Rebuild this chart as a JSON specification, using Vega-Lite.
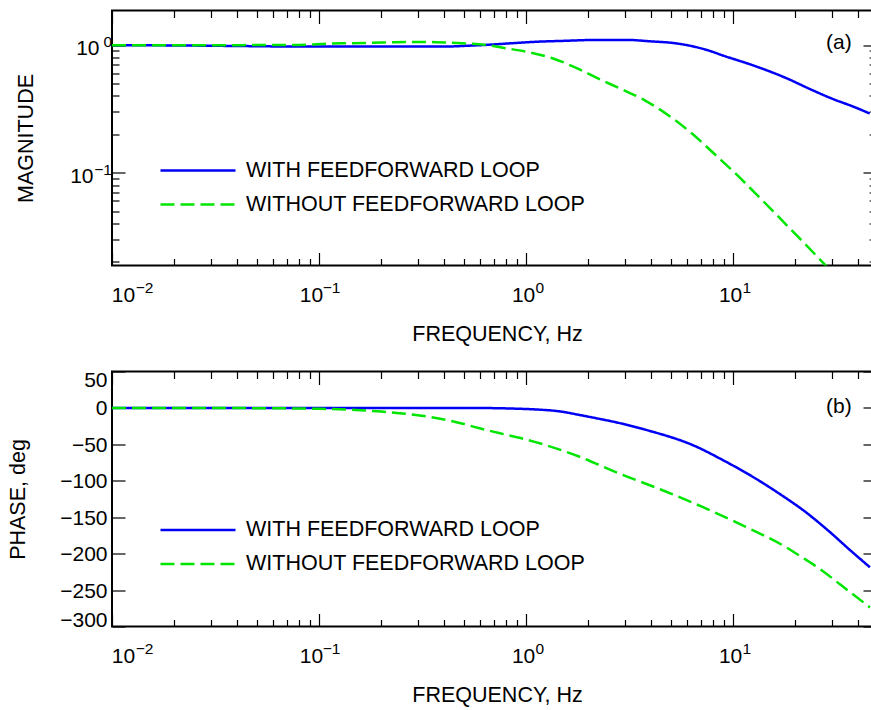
{
  "$schema": "https://vega.github.io/schema/vega-lite/v6.json",
  "padding": {"left": 5, "top": 8.5, "right": 0, "bottom": 0},
  "background": "white",
  "bounds": "flush",
  "spacing": 106,
  "datasets": {
    "mag": [
      {"series": "WITH FEEDFORWARD LOOP", "f": 0.01, "v": 1.0},
      {"series": "WITH FEEDFORWARD LOOP", "f": 0.02, "v": 0.995},
      {"series": "WITH FEEDFORWARD LOOP", "f": 0.04, "v": 0.985},
      {"series": "WITH FEEDFORWARD LOOP", "f": 0.08, "v": 0.975},
      {"series": "WITH FEEDFORWARD LOOP", "f": 0.2, "v": 0.975},
      {"series": "WITH FEEDFORWARD LOOP", "f": 0.41, "v": 0.975},
      {"series": "WITH FEEDFORWARD LOOP", "f": 0.51, "v": 0.988},
      {"series": "WITH FEEDFORWARD LOOP", "f": 0.64, "v": 1.005},
      {"series": "WITH FEEDFORWARD LOOP", "f": 0.86, "v": 1.036},
      {"series": "WITH FEEDFORWARD LOOP", "f": 1.16, "v": 1.066},
      {"series": "WITH FEEDFORWARD LOOP", "f": 1.5, "v": 1.08},
      {"series": "WITH FEEDFORWARD LOOP", "f": 1.86, "v": 1.093},
      {"series": "WITH FEEDFORWARD LOOP", "f": 2.1, "v": 1.1},
      {"series": "WITH FEEDFORWARD LOOP", "f": 3.1, "v": 1.099},
      {"series": "WITH FEEDFORWARD LOOP", "f": 3.9, "v": 1.074},
      {"series": "WITH FEEDFORWARD LOOP", "f": 5.4, "v": 1.029},
      {"series": "WITH FEEDFORWARD LOOP", "f": 7.5, "v": 0.915},
      {"series": "WITH FEEDFORWARD LOOP", "f": 9.0, "v": 0.826},
      {"series": "WITH FEEDFORWARD LOOP", "f": 12.6, "v": 0.691},
      {"series": "WITH FEEDFORWARD LOOP", "f": 17.9, "v": 0.555},
      {"series": "WITH FEEDFORWARD LOOP", "f": 23.9, "v": 0.447},
      {"series": "WITH FEEDFORWARD LOOP", "f": 30, "v": 0.381},
      {"series": "WITH FEEDFORWARD LOOP", "f": 38.9, "v": 0.325},
      {"series": "WITH FEEDFORWARD LOOP", "f": 45.7, "v": 0.291},
      {"series": "WITHOUT FEEDFORWARD LOOP", "f": 0.01, "v": 1.0},
      {"series": "WITHOUT FEEDFORWARD LOOP", "f": 0.03, "v": 1.0},
      {"series": "WITHOUT FEEDFORWARD LOOP", "f": 0.08, "v": 1.005},
      {"series": "WITHOUT FEEDFORWARD LOOP", "f": 0.112, "v": 1.029},
      {"series": "WITHOUT FEEDFORWARD LOOP", "f": 0.139, "v": 1.036},
      {"series": "WITHOUT FEEDFORWARD LOOP", "f": 0.2, "v": 1.047},
      {"series": "WITHOUT FEEDFORWARD LOOP", "f": 0.29, "v": 1.06},
      {"series": "WITHOUT FEEDFORWARD LOOP", "f": 0.366, "v": 1.055},
      {"series": "WITHOUT FEEDFORWARD LOOP", "f": 0.49, "v": 1.036},
      {"series": "WITHOUT FEEDFORWARD LOOP", "f": 0.64, "v": 1.005},
      {"series": "WITHOUT FEEDFORWARD LOOP", "f": 0.76, "v": 0.958},
      {"series": "WITHOUT FEEDFORWARD LOOP", "f": 0.99, "v": 0.892},
      {"series": "WITHOUT FEEDFORWARD LOOP", "f": 1.34, "v": 0.79},
      {"series": "WITHOUT FEEDFORWARD LOOP", "f": 1.8, "v": 0.648},
      {"series": "WITHOUT FEEDFORWARD LOOP", "f": 2.21, "v": 0.551},
      {"series": "WITHOUT FEEDFORWARD LOOP", "f": 2.81, "v": 0.461},
      {"series": "WITHOUT FEEDFORWARD LOOP", "f": 3.78, "v": 0.366},
      {"series": "WITHOUT FEEDFORWARD LOOP", "f": 4.9, "v": 0.28},
      {"series": "WITHOUT FEEDFORWARD LOOP", "f": 6.35, "v": 0.2017},
      {"series": "WITHOUT FEEDFORWARD LOOP", "f": 8.08, "v": 0.1413},
      {"series": "WITHOUT FEEDFORWARD LOOP", "f": 10.32, "v": 0.0977},
      {"series": "WITHOUT FEEDFORWARD LOOP", "f": 13.33, "v": 0.0646},
      {"series": "WITHOUT FEEDFORWARD LOOP", "f": 16.65, "v": 0.0447},
      {"series": "WITHOUT FEEDFORWARD LOOP", "f": 20.8, "v": 0.0309},
      {"series": "WITHOUT FEEDFORWARD LOOP", "f": 25.98, "v": 0.02125},
      {"series": "WITHOUT FEEDFORWARD LOOP", "f": 30.7, "v": 0.016}
    ],
    "phase": [
      {"series": "WITH FEEDFORWARD LOOP", "f": 0.01, "v": 0},
      {"series": "WITH FEEDFORWARD LOOP", "f": 0.1, "v": 0},
      {"series": "WITH FEEDFORWARD LOOP", "f": 0.5, "v": 0},
      {"series": "WITH FEEDFORWARD LOOP", "f": 0.7, "v": -0.3},
      {"series": "WITH FEEDFORWARD LOOP", "f": 0.89, "v": -1},
      {"series": "WITH FEEDFORWARD LOOP", "f": 1.15, "v": -2.3},
      {"series": "WITH FEEDFORWARD LOOP", "f": 1.45, "v": -4.7},
      {"series": "WITH FEEDFORWARD LOOP", "f": 1.8, "v": -9.5},
      {"series": "WITH FEEDFORWARD LOOP", "f": 2.26, "v": -15},
      {"series": "WITH FEEDFORWARD LOOP", "f": 2.6, "v": -18.5},
      {"series": "WITH FEEDFORWARD LOOP", "f": 3.77, "v": -29.9},
      {"series": "WITH FEEDFORWARD LOOP", "f": 6.61, "v": -52.9},
      {"series": "WITH FEEDFORWARD LOOP", "f": 8.87, "v": -71.2},
      {"series": "WITH FEEDFORWARD LOOP", "f": 12.4, "v": -94.3},
      {"series": "WITH FEEDFORWARD LOOP", "f": 16.6, "v": -117.1},
      {"series": "WITH FEEDFORWARD LOOP", "f": 22.4, "v": -142.9},
      {"series": "WITH FEEDFORWARD LOOP", "f": 29.0, "v": -169.1},
      {"series": "WITH FEEDFORWARD LOOP", "f": 36.3, "v": -193.9},
      {"series": "WITH FEEDFORWARD LOOP", "f": 45.8, "v": -218.7},
      {"series": "WITHOUT FEEDFORWARD LOOP", "f": 0.01, "v": 0},
      {"series": "WITHOUT FEEDFORWARD LOOP", "f": 0.05, "v": -0.3},
      {"series": "WITHOUT FEEDFORWARD LOOP", "f": 0.1, "v": -1.2},
      {"series": "WITHOUT FEEDFORWARD LOOP", "f": 0.15, "v": -2.8},
      {"series": "WITHOUT FEEDFORWARD LOOP", "f": 0.2, "v": -5},
      {"series": "WITHOUT FEEDFORWARD LOOP", "f": 0.3, "v": -10},
      {"series": "WITHOUT FEEDFORWARD LOOP", "f": 0.446, "v": -18.5},
      {"series": "WITHOUT FEEDFORWARD LOOP", "f": 0.59, "v": -27.6},
      {"series": "WITHOUT FEEDFORWARD LOOP", "f": 0.74, "v": -34.5},
      {"series": "WITHOUT FEEDFORWARD LOOP", "f": 0.94, "v": -41.3},
      {"series": "WITHOUT FEEDFORWARD LOOP", "f": 1.8, "v": -66.7},
      {"series": "WITHOUT FEEDFORWARD LOOP", "f": 2.79, "v": -89.6},
      {"series": "WITHOUT FEEDFORWARD LOOP", "f": 4.53, "v": -112.6},
      {"series": "WITHOUT FEEDFORWARD LOOP", "f": 7.07, "v": -135.6},
      {"series": "WITHOUT FEEDFORWARD LOOP", "f": 11.5, "v": -163.2},
      {"series": "WITHOUT FEEDFORWARD LOOP", "f": 17.9, "v": -190.7},
      {"series": "WITHOUT FEEDFORWARD LOOP", "f": 21.5, "v": -204.9},
      {"series": "WITHOUT FEEDFORWARD LOOP", "f": 26.0, "v": -220.1},
      {"series": "WITHOUT FEEDFORWARD LOOP", "f": 33.55, "v": -244.2},
      {"series": "WITHOUT FEEDFORWARD LOOP", "f": 45.8, "v": -273.8}
    ]
  },
  "vconcat": [
    {
      "width": 764,
      "height": 255,
      "layer": [
        {
          "data": {"name": "mag"},
          "mark": {"type": "line", "strokeWidth": 2.5, "clip": true, "interpolate": "monotone"},
          "encoding": {
            "x": {
              "field": "f", "type": "quantitative",
              "scale": {"type": "log", "domain": [0.01, 49], "nice": false},
              "axis": {
                "orient": "bottom",
                "values": [0.01,0.02,0.03,0.04,0.05,0.06,0.07,0.08,0.09,0.1,0.2,0.3,0.4,0.5,0.6,0.7,0.8,0.9,1,2,3,4,5,6,7,8,9,10,20,30,40],
                "tickSize": {"condition": {"test": "datum.value==0.01||datum.value==0.1||datum.value==1||datum.value==10", "value": -13}, "value": -7},
                "labelExpr": "datum.value==0.01||datum.value==0.1||datum.value==1||datum.value==10?'10':''",
                "labelPadding": 31.5,
                "labelAlign": "center",
                "labelOffset": {"condition": [{"test": "datum.value==0.01", "value": 11}, {"test": "datum.value==0.1", "value": -8}], "value": -3},
                "title": "FREQUENCY, Hz",
                "titleX": 385,
                "titleY": 75,
                "titleBaseline": "alphabetic"
              }
            },
            "y": {
              "field": "v", "type": "quantitative",
              "scale": {"type": "log", "domain": [0.0187, 1.87], "nice": false},
              "axis": {
                "orient": "left",
                "values": [0.02,0.03,0.04,0.05,0.06,0.07,0.08,0.09,0.1,0.2,0.3,0.4,0.5,0.6,0.7,0.8,0.9,1],
                "tickSize": {"condition": {"test": "datum.value==1||datum.value==0.1", "value": -13}, "value": -7},
                "labelExpr": "datum.value==1||datum.value==0.1?'10':''",
                "labelPadding": {"condition": {"test": "datum.value==0.1", "value": 32}, "value": 26},
                "labelOffset": 3.7,
                "title": "MAGNITUDE",
                "titleX": -80,
                "titleY": 127.5,
                "titleBaseline": "alphabetic"
              }
            },
            "color": {
              "field": "series", "type": "nominal",
              "scale": {"domain": ["WITH FEEDFORWARD LOOP", "WITHOUT FEEDFORWARD LOOP"], "range": ["#0000f5", "#00e600"]},
              "legend": {"title": null, "orient": "none", "legendX": 47, "legendY": 150, "symbolType": "stroke", "symbolSize": 5625, "symbolStrokeWidth": 2.5, "labelFontSize": 21.5, "labelFont": "Liberation Sans", "labelColor": "black", "labelLimit": 600, "labelOffset": 9, "clipHeight": 20, "rowPadding": 12, "padding": 0}
            },
            "strokeDash": {
              "field": "series", "type": "nominal",
              "scale": {"domain": ["WITH FEEDFORWARD LOOP", "WITHOUT FEEDFORWARD LOOP"], "range": [[1, 0], [14, 6]]},
              "legend": {"title": null, "orient": "none", "legendX": 47, "legendY": 150, "symbolType": "stroke", "symbolSize": 5625, "symbolStrokeWidth": 2.5, "labelFontSize": 21.5, "labelFont": "Liberation Sans", "labelColor": "black", "labelLimit": 600, "labelOffset": 9, "clipHeight": 20, "rowPadding": 12, "padding": 0}
            }
          }
        },
        {
          "data": {"values": [{}]},
          "mark": {"type": "text", "fontSize": 21, "font": "Liberation Sans", "color": "black", "align": "center", "baseline": "middle"},
          "encoding": {
            "x": {
              "datum": 32.4, "type": "quantitative",
              "axis": {
                "orient": "top",
                "values": [0.01,0.02,0.03,0.04,0.05,0.06,0.07,0.08,0.09,0.1,0.2,0.3,0.4,0.5,0.6,0.7,0.8,0.9,1,2,3,4,5,6,7,8,9,10,20,30,40],
                "tickSize": {"condition": {"test": "datum.value==0.01||datum.value==0.1||datum.value==1||datum.value==10", "value": -13}, "value": -7},
                "labels": false,
                "title": null
              }
            },
            "y": {
              "datum": 1.033, "type": "quantitative",
              "axis": {
                "orient": "right",
                "values": [0.02,0.03,0.04,0.05,0.06,0.07,0.08,0.09,0.1,0.2,0.3,0.4,0.5,0.6,0.7,0.8,0.9,1],
                "tickSize": {"condition": {"test": "datum.value==1||datum.value==0.1", "value": -13}, "value": -7},
                "labels": false,
                "title": null
              }
            },
            "text": {"value": "(a)"}
          }
        },
        {
          "data": {"values": [{}]},
          "mark": {"type": "text", "fontSize": 1, "opacity": 0},
          "encoding": {
            "x": {
              "datum": 1, "type": "quantitative",
              "axis": {
                "orient": "bottom",
                "values": [0.01, 0.1, 1, 10],
                "ticks": false,
                "labelExpr": "datum.value==0.01?'−2':datum.value==0.1?'−1':datum.value==1?'0':'1'",
                "labelFontSize": 15.5,
                "labelAlign": "center",
                "labelBaseline": "top",
                "labelPadding": 14.6,
                "labelOffset": {"condition": [{"test": "datum.value==0.01", "value": 32}, {"test": "datum.value==0.1", "value": 12}], "value": 13.3},
                "title": null
              }
            },
            "y": {
              "datum": 1, "type": "quantitative",
              "axis": {
                "orient": "left",
                "values": [1, 0.1],
                "ticks": false,
                "labelExpr": "datum.value==1?'0':'−1'",
                "labelFontSize": 15.5,
                "labelAlign": "right",
                "labelBaseline": "middle",
                "labelPadding": 0.5,
                "labelOffset": -3.5,
                "title": null
              }
            },
            "text": {"value": ""}
          }
        }
      ],
      "resolve": {"axis": {"x": "independent", "y": "independent"}}
    },
    {
      "width": 764,
      "height": 255,
      "layer": [
        {
          "data": {"name": "phase"},
          "mark": {"type": "line", "strokeWidth": 2.5, "clip": true, "interpolate": "monotone"},
          "encoding": {
            "x": {
              "field": "f", "type": "quantitative",
              "scale": {"type": "log", "domain": [0.01, 49], "nice": false},
              "axis": {
                "orient": "bottom",
                "values": [0.01,0.02,0.03,0.04,0.05,0.06,0.07,0.08,0.09,0.1,0.2,0.3,0.4,0.5,0.6,0.7,0.8,0.9,1,2,3,4,5,6,7,8,9,10,20,30,40],
                "tickSize": {"condition": {"test": "datum.value==0.01||datum.value==0.1||datum.value==1||datum.value==10", "value": -13}, "value": -7},
                "labelExpr": "datum.value==0.01||datum.value==0.1||datum.value==1||datum.value==10?'10':''",
                "labelPadding": 31.5,
                "labelAlign": "center",
                "labelOffset": {"condition": [{"test": "datum.value==0.01", "value": 11}, {"test": "datum.value==0.1", "value": -8}], "value": -3},
                "title": "FREQUENCY, Hz",
                "titleX": 385,
                "titleY": 75,
                "titleBaseline": "alphabetic"
              }
            },
            "y": {
              "field": "v", "type": "quantitative",
              "scale": {"type": "linear", "domain": [-300, 50], "nice": false, "zero": false},
              "axis": {
                "orient": "left",
                "values": [50, 0, -50, -100, -150, -200, -250, -300],
                "format": "d",
                "tickSize": -13,
                "labelPadding": 18,
                "labelOffset": 1,
                "labelFlush": true,
                "labelFlushOffset": 3,
                "title": "PHASE, deg",
                "titleX": -88,
                "titleY": 127.5,
                "titleBaseline": "alphabetic"
              }
            },
            "color": {
              "field": "series", "type": "nominal",
              "scale": {"domain": ["WITH FEEDFORWARD LOOP", "WITHOUT FEEDFORWARD LOOP"], "range": ["#0000f5", "#00e600"]},
              "legend": {"title": null, "orient": "none", "legendX": 47, "legendY": 148.5, "symbolType": "stroke", "symbolSize": 5625, "symbolStrokeWidth": 2.5, "labelFontSize": 21.5, "labelFont": "Liberation Sans", "labelColor": "black", "labelLimit": 600, "labelOffset": 9, "clipHeight": 20, "rowPadding": 12, "padding": 0}
            },
            "strokeDash": {
              "field": "series", "type": "nominal",
              "scale": {"domain": ["WITH FEEDFORWARD LOOP", "WITHOUT FEEDFORWARD LOOP"], "range": [[1, 0], [14, 6]]},
              "legend": {"title": null, "orient": "none", "legendX": 47, "legendY": 148.5, "symbolType": "stroke", "symbolSize": 5625, "symbolStrokeWidth": 2.5, "labelFontSize": 21.5, "labelFont": "Liberation Sans", "labelColor": "black", "labelLimit": 600, "labelOffset": 9, "clipHeight": 20, "rowPadding": 12, "padding": 0}
            }
          }
        },
        {
          "data": {"values": [{}]},
          "mark": {"type": "text", "fontSize": 21, "font": "Liberation Sans", "color": "black", "align": "center", "baseline": "middle"},
          "encoding": {
            "x": {
              "datum": 32.4, "type": "quantitative",
              "axis": {
                "orient": "top",
                "values": [0.01,0.02,0.03,0.04,0.05,0.06,0.07,0.08,0.09,0.1,0.2,0.3,0.4,0.5,0.6,0.7,0.8,0.9,1,2,3,4,5,6,7,8,9,10,20,30,40],
                "tickSize": {"condition": {"test": "datum.value==0.01||datum.value==0.1||datum.value==1||datum.value==10", "value": -13}, "value": -7},
                "labels": false,
                "title": null
              }
            },
            "y": {
              "datum": 1, "type": "quantitative",
              "axis": {
                "orient": "right",
                "values": [50, 0, -50, -100, -150, -200, -250, -300],
                "tickSize": -13,
                "labels": false,
                "title": null
              }
            },
            "text": {"value": "(b)"}
          }
        },
        {
          "data": {"values": [{}]},
          "mark": {"type": "text", "fontSize": 1, "opacity": 0},
          "encoding": {
            "x": {
              "datum": 1, "type": "quantitative",
              "axis": {
                "orient": "bottom",
                "values": [0.01, 0.1, 1, 10],
                "ticks": false,
                "labelExpr": "datum.value==0.01?'−2':datum.value==0.1?'−1':datum.value==1?'0':'1'",
                "labelFontSize": 15.5,
                "labelAlign": "center",
                "labelBaseline": "top",
                "labelPadding": 14.6,
                "labelOffset": {"condition": [{"test": "datum.value==0.01", "value": 32}, {"test": "datum.value==0.1", "value": 12}], "value": 13.3},
                "title": null
              }
            },
            "text": {"value": ""}
          }
        }
      ],
      "resolve": {"axis": {"x": "independent", "y": "independent"}}
    }
  ],
  "resolve": {
    "scale": {"color": "independent", "strokeDash": "independent"},
    "legend": {"color": "independent", "strokeDash": "independent"}
  },
  "config": {
    "view": {"stroke": "black", "strokeWidth": 2},
    "font": "Liberation Sans",
    "axis": {
      "domain": false, "grid": false, "tickColor": "black", "tickWidth": 1.2,
      "labelColor": "black", "labelFontSize": 21, "labelFont": "Liberation Sans",
      "titleFont": "Liberation Sans", "titleFontSize": 21.5, "titleFontWeight": "normal", "titleColor": "black",
      "labelOverlap": false, "labelBound": false
    },
    "text": {"font": "Liberation Sans", "fontSize": 21}
  }
}
